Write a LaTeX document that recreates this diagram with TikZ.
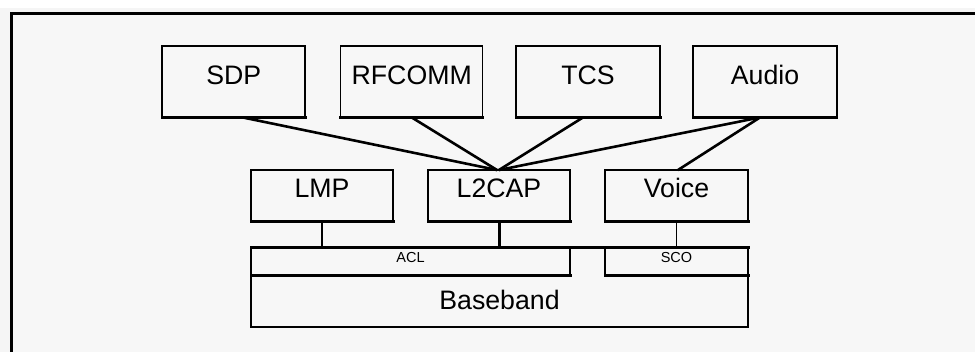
\documentclass[tikz,border=0pt]{standalone}
\usepackage{fontspec}
\setmainfont{Liberation Sans}
\definecolor{bgpage}{HTML}{F5F5F5}
\definecolor{bginner}{HTML}{F7F7F7}
\tikzset{
  box/.style={draw=black, line width=1.5pt, fill=bginner, inner sep=0pt, outer sep=0pt,
    font=\fontsize{26.7}{30}\selectfont},
  toprow/.style={box, minimum width=143pt, minimum height=71.5pt, text height=20pt, text depth=13.4pt},
  midrow/.style={box, minimum width=142pt, minimum height=52pt, text height=20pt, text depth=17.4pt},
  bar/.style={box, minimum height=27.7pt, font=\fontsize{14.5}{16}\selectfont, text height=10pt, text depth=7pt},
  link/.style={line width=2.6pt, line cap=round},
  thinlink/.style={line width=1.6pt},
  heavy/.style={line width=3pt, line cap=rect},
}
\begin{document}
\begin{tikzpicture}[x=1pt,y=-1pt]
\useasboundingbox (0,0) rectangle (975,352);
% page background
\fill[bgpage] (0,0) rectangle (975,352);
\fill[white] (0,0) rectangle (975,8);
% outer frame (extends beyond the visible area)
\fill[bginner] (11.5,13.5) rectangle (975,352);
\draw[line width=3pt] (11.5,360) -- (11.5,13.5) -- (985,13.5);

% top row
\node[toprow] (sdp) at (233.7,81.7) {SDP};
\node[toprow, minimum width=142pt] (rfcomm) at (411.7,81.7) {RFCOMM};
\node[toprow, minimum width=144pt] (tcs) at (588,81.7) {TCS};
\node[toprow, minimum width=143.7pt] (audio) at (765,81.7) {Audio};

% middle row
\node[midrow] (lmp) at (322,196) {LMP};
\node[midrow] (l2cap) at (499,196) {L2CAP};
\node[midrow, minimum width=143pt] (voice) at (676.5,196) {Voice};

% bottom
\node[box, draw=none, minimum width=497pt, minimum height=52pt, text height=20pt, text depth=2pt] (baseband) at (499.5,301) {Baseband};
\draw[line width=1.5pt] (baseband.north west) -- (baseband.south west) -- (baseband.south east) -- (baseband.north east);
\node[bar, minimum width=319pt] (acl) at (410.5,261.2) {ACL};
\node[bar, minimum width=143pt] (sco) at (676.5,261.2) {SCO};

% heavier edges
\foreach \n in {sdp,rfcomm,tcs,audio,lmp,l2cap,voice,acl,sco}
  \draw[heavy] (\n.south west) -- (\n.south east);
\draw[heavy] (acl.north west) -- (sco.north east);

% connectors
\draw[link] ([xshift=9pt]sdp.south) -- ([xshift=-2pt]l2cap.north);
\draw[link] (rfcomm.south) -- ([xshift=-2pt]l2cap.north);
\draw[link] ([xshift=-5pt]tcs.south) -- (l2cap.north);
\draw[link] ([xshift=-5pt]audio.south) -- (l2cap.north);
\draw[link] ([xshift=-5pt]audio.south) -- ([xshift=1.5pt]voice.north);
\draw[thinlink] (lmp.south) -- (lmp.south |- acl.north);
\draw[line width=3pt] (l2cap.south) -- (l2cap.south |- acl.north);
\draw[thinlink] (voice.south) -- (voice.south |- sco.north);
\end{tikzpicture}
\end{document}
